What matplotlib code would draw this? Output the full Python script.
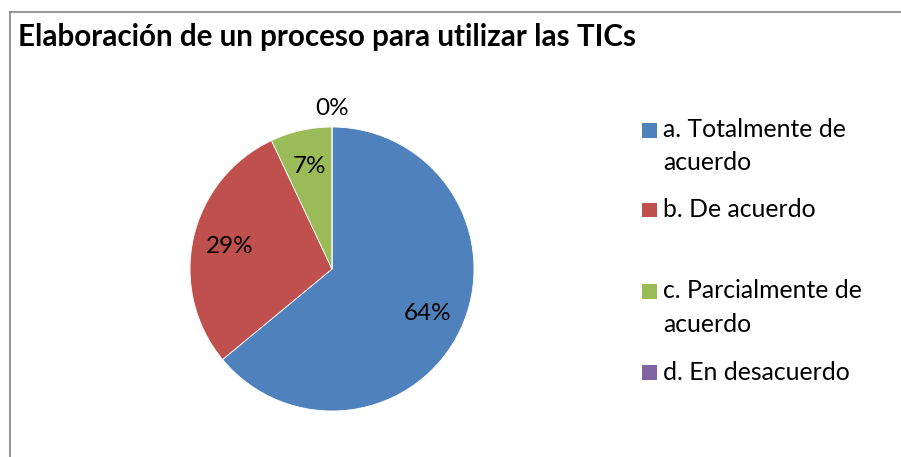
import matplotlib
matplotlib.use("Agg")
import matplotlib.pyplot as plt
from matplotlib.patches import Rectangle
from matplotlib.lines import Line2D
import numpy as np

title = "Elaboración de un proceso para utilizar las TICs"
categories = ["a. Totalmente de\nacuerdo", "b. De acuerdo", "c. Parcialmente de\nacuerdo", "d. En desacuerdo"]
values = [64, 29, 7, 0]
colors = ["#4F81BD", "#C0504D", "#9BBB59", "#8064A2"]

W, H = 901, 457
fig = plt.figure(figsize=(W / 100, H / 100), dpi=100)
plt.rcParams['font.family'] = ['Lato', 'DejaVu Sans']

# frame
fig.add_artist(Line2D([9.5 / W, 9.5 / W], [0, 1 - 11.5 / H], transform=fig.transFigure, color="#8c8c8c", lw=1.3))
fig.add_artist(Line2D([9.5 / W, 1.0], [1 - 11.5 / H, 1 - 11.5 / H], transform=fig.transFigure, color="#8c8c8c", lw=1.3))

fig.text(18 / W, 1 - 46 / H, title, fontsize=21.3, fontweight="bold", ha="left", va="baseline")

cx, cy, r = 332, 269, 142
ax = fig.add_axes([(cx - r) / W, (H - cy - r) / H, 2 * r / W, 2 * r / H])
wedges, texts, autotexts = ax.pie(values, colors=colors, startangle=90, counterclock=False,
                                  autopct=lambda p: f"{p:.0f}%", pctdistance=0.74,
                                  wedgeprops=dict(edgecolor="white", linewidth=0.6),
                                  textprops=dict(fontsize=17.5, color="black"))
ax.set_xlim(-1, 1)
ax.set_ylim(-1, 1)
ax.set_aspect("equal")
ax.axis("off")
for w, t, v in zip(wedges, autotexts, values):
    if v == 0:
        ang = np.deg2rad((w.theta1 + w.theta2) / 2)
        t.set_position((1.13 * np.cos(ang), 1.13 * np.sin(ang)))
    t.set_clip_on(False)

# legend (manual)
centers = [130, 210, 291, 372]
for lab, col, yc in zip(categories, colors, centers):
    fig.add_artist(Rectangle((642 / W, 1 - (yc + 7.5) / H), 14.5 / W, 15 / H, transform=fig.transFigure,
                             facecolor=col, edgecolor="none"))
    lines = lab.split("\n")
    for i, ln in enumerate(lines):
        fig.text(663 / W, 1 - (yc + 33 * i) / H, ln, fontsize=17.8, ha="left", va="center")

fig.savefig("out.png", dpi=100)
